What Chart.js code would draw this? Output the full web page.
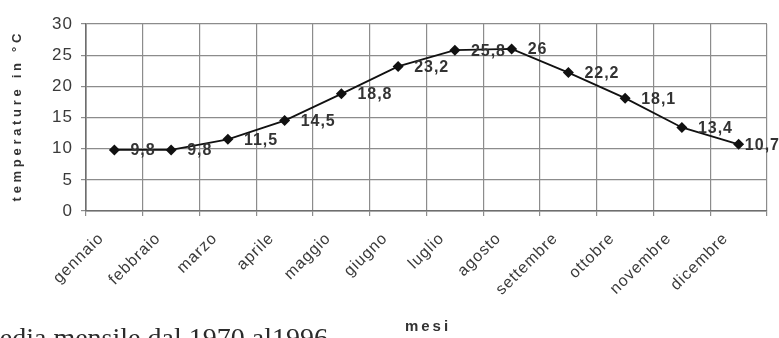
<!DOCTYPE html>
<html lang="it">
<head>
<meta charset="utf-8">
<title>temperature in °C</title>
<script src="https://cdn.jsdelivr.net/npm/chart.js@4.4.1/dist/chart.umd.min.js"></script>
<style>
  html, body { margin: 0; padding: 0; background: #fff; overflow: hidden; }
  #wrap { position: relative; width: 779px; height: 338px; overflow: hidden; }
  #chart { position: absolute; left: 0; top: 0; }
  #caption {
    position: absolute; left: -22px; top: 324px;
    font: 28px/1 "Liberation Serif", "DejaVu Serif", serif;
    color: #2b2b2b; white-space: nowrap;
  }
</style>
</head>
<body>
<div id="wrap">
  <canvas id="chart" width="779" height="338"></canvas>
  <div id="caption">media mensile dal 1970 al1996</div>
</div>
<script>
(function () {
  "use strict";

  // ── dati ───────────────────────────────────────────────
  const mesi = [
    "gennaio", "febbraio", "marzo", "aprile", "maggio", "giugno",
    "luglio", "agosto", "settembre", "ottobre", "novembre", "dicembre",
  ];
  const temperature = [9.8, 9.8, 11.5, 14.5, 18.8, 23.2, 25.8, 26, 22.2, 18.1, 13.4, 10.7];
  const yTicks = [0, 5, 10, 15, 20, 25, 30];

  const yTitle = "temperature in °C";
  const xTitle = "mesi";

  const GRID = "#8c8c8c";
  const TEXT = "#333";
  const SANS = '"Liberation Sans", Arial, sans-serif';

  // etichette dati a destra del punto + titoli degli assi
  const labelsPlugin = {
    id: "labelsPlugin",
    beforeDraw(chart) {
      chart.ctx.letterSpacing = "1px";
    },
    beforeDatasetsDraw(chart) {
      chart.ctx.letterSpacing = "0px";
    },
    afterDatasetsDraw(chart) {
      const ctx = chart.ctx;
      const meta = chart.getDatasetMeta(0);
      ctx.save();
      ctx.font = "bold 16px " + SANS;
      ctx.letterSpacing = "1px";
      ctx.fillStyle = TEXT;
      ctx.textAlign = "left";
      ctx.textBaseline = "middle";
      meta.data.forEach((pt, i) => {
        const txt = String(temperature[i]).replace(".", ",");
        const w = ctx.measureText(txt).width;
        // come Excel: l'etichetta resta dentro il bordo
        const x = Math.min(pt.x + 16, chart.width - w + 1);
        ctx.fillText(txt, x, pt.y + 1);
      });
      ctx.restore();
    },
    afterDraw(chart) {
      const ctx = chart.ctx;
      const area = chart.chartArea;
      ctx.save();
      ctx.fillStyle = TEXT;
      ctx.textAlign = "center";
      ctx.textBaseline = "middle";

      // titolo asse y
      ctx.font = "bold 13px " + SANS;
      ctx.letterSpacing = "3.7px";
      ctx.translate(17, (area.top + area.bottom) / 2);
      ctx.rotate(-Math.PI / 2);
      ctx.fillText(yTitle, 1.8, 0);
      ctx.setTransform(1, 0, 0, 1, 0, 0);

      // titolo asse x
      ctx.font = "bold 15px " + SANS;
      ctx.letterSpacing = "3px";
      ctx.fillText(xTitle, (area.left + area.right) / 2 + 1.5, 327);
      ctx.letterSpacing = "0px";
      ctx.restore();
    },
  };

  new Chart(document.getElementById("chart"), {
    type: "line",
    data: {
      labels: mesi,
      datasets: [
        {
          data: temperature,
          borderColor: "#111",
          borderWidth: 1.8,
          backgroundColor: "#111",
          pointStyle: "rectRot",
          pointRadius: 5.5,
          pointBackgroundColor: "#111",
          pointBorderColor: "#111",
          pointBorderWidth: 0,
          tension: 0,
          clip: false,
        },
      ],
    },
    options: {
      responsive: false,
      animation: false,
      events: [],
      layout: { padding: { top: 24, right: 12, left: 0, bottom: 0 } },
      plugins: {
        legend: { display: false },
        tooltip: { enabled: false },
      },
      scales: {
        x: {
          offset: true,
          grid: {
            offset: true,
            color: GRID,
            lineWidth: 1.2,
            drawTicks: true,
            tickLength: 5,
          },
          border: { color: "#6e6e6e", width: 1.6 },
          ticks: {
            color: "#3a3a3a",
            font: { family: SANS, size: 16 },
            minRotation: 45,
            maxRotation: 45,
            autoSkip: false,
            padding: 13,
            labelOffset: -13,
          },
          afterFit(scale) {
            scale.height = 127;
          },
        },
        y: {
          min: 0,
          max: 30,
          afterBuildTicks(scale) {
            scale.ticks = yTicks.map((v) => ({ value: v }));
          },
          grid: {
            color: GRID,
            lineWidth: 1.2,
            drawTicks: true,
            tickLength: 5,
          },
          border: { color: "#6e6e6e", width: 1.6 },
          ticks: {
            color: "#3a3a3a",
            font: { family: SANS, size: 17 },
            padding: 8,
          },
          afterFit(scale) {
            scale.width = 86;
          },
        },
      },
    },
    plugins: [labelsPlugin],
  });
})();
</script>
</body>
</html>
